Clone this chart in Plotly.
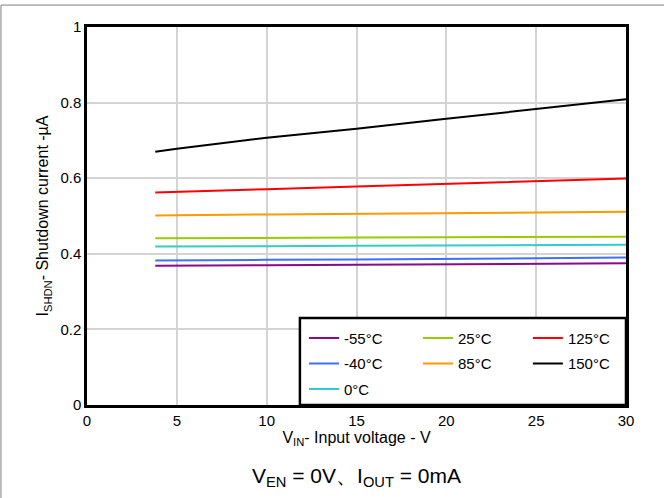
import plotly.graph_objects as go

vin = [3.8, 5, 10, 15, 20, 25, 30]
names = ["-55°C", "-40°C", "0°C", "25°C", "85°C", "125°C", "150°C"]
colors = ["#8B0A8B", "#3F6FFF", "#33CCCC", "#99CC00", "#FF9900", "#FF0000", "#000000"]
legend_cols = ["legend", "legend", "legend", "legend2", "legend2", "legend3", "legend3"]
i_m55 = [0.3685, 0.369, 0.370, 0.371, 0.372, 0.374, 0.375]
i_m40 = [0.382, 0.382, 0.384, 0.385, 0.387, 0.389, 0.390]
i_0 = [0.419, 0.419, 0.420, 0.421, 0.422, 0.423, 0.424]
i_25 = [0.441, 0.441, 0.442, 0.443, 0.444, 0.445, 0.445]
i_85 = [0.501, 0.502, 0.504, 0.506, 0.508, 0.510, 0.511]
i_125 = [0.562, 0.564, 0.571, 0.578, 0.585, 0.592, 0.599]
i_150 = [0.670, 0.678, 0.707, 0.731, 0.757, 0.784, 0.809]
series = [i_m55, i_m40, i_0, i_25, i_85, i_125, i_150]

x_ticks = [0, 5, 10, 15, 20, 25, 30]
y_ticks = [0, 0.2, 0.4, 0.6, 0.8, 1]

fig = go.Figure()
for n, c, s, lg in zip(names, colors, series, legend_cols):
    fig.add_trace(go.Scatter(x=vin, y=s, mode="lines", name=n, legend=lg,
                             legendgroup=n, line=dict(color=c, width=2)))

font_family = "Liberation Sans, Arial, sans-serif"
leg_common = dict(orientation="v", yanchor="top", xanchor="left",
                  bgcolor="rgba(0,0,0,0)", borderwidth=0, font=dict(size=15),
                  tracegroupgap=3, traceorder="grouped", itemwidth=30)
fig.update_layout(
    width=664, height=498,
    margin=dict(l=87, r=38, t=27, b=93),
    paper_bgcolor="white", plot_bgcolor="white",
    font=dict(family=font_family, size=15, color="black"),
    showlegend=True,
    legend=dict(x=0.4026, y=0.22, **leg_common),
    legend2=dict(x=0.614, y=0.22, **leg_common),
    legend3=dict(x=0.818, y=0.22, **leg_common),
    xaxis=dict(range=[0, 30], tickvals=x_ticks, showgrid=True, gridcolor="#d4d4d4",
               gridwidth=1.5, showline=True, linecolor="black", linewidth=2.5,
               mirror=True, zeroline=False, ticks="", ticklen=0,
               tickfont=dict(size=15),
               title=dict(text="V<sub>IN</sub>- Input voltage - V", standoff=4,
                          font=dict(size=16))),
    yaxis=dict(range=[0, 1], tickvals=y_ticks, showgrid=True, gridcolor="#d4d4d4",
               gridwidth=1.5, showline=True, linecolor="black", linewidth=2.5,
               mirror=True, zeroline=False, ticks="", tickfont=dict(size=15),
               title=dict(text="I<sub>SHDN</sub>- Shutdown current -µA", standoff=8,
                          font=dict(size=16))),
    annotations=[dict(text="V<sub>EN</sub> = 0V、I<sub>OUT</sub> = 0mA",
                      xref="paper", yref="paper", x=0.5, y=-0.19,
                      xanchor="center", yanchor="middle", showarrow=False,
                      font=dict(size=21))],
    shapes=[dict(type="rect", xref="paper", yref="paper", x0=0.395, x1=1,
                 y0=0, y1=0.23, layer="above", fillcolor="white",
                 line=dict(color="black", width=2.5)),
            dict(type="line", xref="paper", yref="paper", x0=-0.1596, x1=1.0705,
                 y0=1.058, y1=1.058, line=dict(color="#7f7f7f", width=1)),
            dict(type="line", xref="paper", yref="paper", x0=-0.1596, x1=-0.1596,
                 y0=1.058, y1=-0.246, line=dict(color="#7f7f7f", width=1))],
)

fig.write_html("out.html", config={"displayModeBar": False},
               post_script="document.body.style.margin='0';")
